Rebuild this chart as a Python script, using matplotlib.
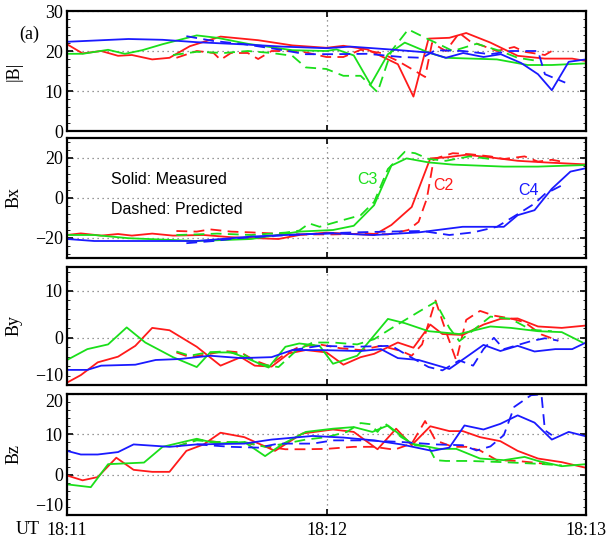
import matplotlib
matplotlib.use('Agg')
import matplotlib.pyplot as plt
from matplotlib.ticker import AutoMinorLocator

# time in seconds after 18:11 UT
# ---- |B| ----
b_c4_t = [0, 14.2, 22.1, 30, 41.8, 49.7, 60, 65.5, 75.8, 83.7, 87.6, 91.6, 96.3, 100.3, 105, 108.9, 112.1, 116, 120]
b_c4 = [22.3, 23.0, 22.8, 22.2, 21.6, 21.1, 20.7, 21.1, 20.3, 19.6, 18.3, 19.5, 18.5, 19.2, 17.0, 14.2, 10.2, 17.3, 17.9]
b_c3_t = [0, 3.6, 9.5, 13.4, 17.4, 22.1, 30, 34.7, 41.8, 52.1, 60, 62.3, 66.3, 70.2, 74.2, 78.1, 83.6, 87.6, 99.4, 106.5, 112.1, 120]
b_c3 = [19.3, 19.3, 20.3, 19.3, 20.2, 21.7, 23.9, 23.3, 21.8, 20.2, 20.0, 20.4, 18.9, 11.6, 19.2, 22.1, 19.6, 18.3, 17.9, 16.5, 16.5, 16.9]
b_c2_t = [0, 3.6, 7.9, 11.8, 15, 19.7, 23.7, 28.4, 35.5, 44.2, 52.1, 60, 63.9, 69.4, 76.5, 80.1, 83.6, 88.4, 92.3, 97.9, 104.2, 110.5, 116.8, 120]
b_c2 = [21.7, 19.4, 20.0, 18.8, 19.0, 17.9, 18.3, 21.2, 23.6, 22.7, 21.4, 20.8, 21.3, 20.4, 16.7, 8.6, 23.1, 23.3, 24.5, 22.1, 18.8, 18.1, 18.1, 17.5]
b_c2p_t = [25.3, 30, 33.9, 35.5, 37.9, 41.8, 44.2, 47.3, 53.7, 60, 63.9, 67.9, 72.6, 76.5, 80.5, 82.8, 84.4, 87.6, 90.7, 93.1, 99.4, 103.4, 105.8, 110.5, 112.1]
b_c2p = [18.3, 20.0, 19.5, 17.8, 19.5, 19.5, 18.0, 20.0, 20.0, 18.5, 18.5, 20.3, 19.5, 17.5, 15.0, 13.5, 22.0, 20.0, 24.5, 22.5, 20.0, 21.0, 19.8, 19.0, 20.0]
b_c3p_t = [24.5, 30, 36.3, 41.8, 47.3, 52.1, 55.2, 60, 63.9, 67.9, 71.8, 75, 78.9, 83.6, 86, 89.2, 94.7, 100.2, 104.2, 108.9]
b_c3p = [19.0, 19.8, 19.5, 20.0, 19.5, 18.8, 15.9, 15.5, 13.8, 13.8, 9.7, 20.0, 25.4, 22.9, 21.7, 20.0, 21.8, 20.0, 18.3, 17.5]
b_c4p_t = [27.6, 33.9, 41, 48.9, 55.2, 61.5, 69.4, 77.3, 82.1, 85.2, 91.5, 97.9, 102.6, 108.9, 110.5, 115.2]
b_c4p = [23.7, 22.5, 21.7, 20.4, 19.2, 19.2, 19.3, 18.5, 18.3, 20.2, 20.0, 19.2, 20.0, 20.0, 14.2, 12.1]

# ---- Bx ----
bx_c3_t = [0, 6.3, 14.2, 30, 42.6, 53.7, 61.5, 66.3, 71, 75, 78.5, 83.6, 89.2, 101, 108.9, 120]
bx_c3 = [-18.5, -18.5, -20.1, -21.5, -20.5, -16.8, -16.0, -13.9, -3.6, 16.2, 19.8, 17.8, 16.7, 15.7, 15.7, 16.5]
bx_c2_t = [0, 3.2, 7.9, 11.8, 15, 19.7, 24.5, 31.6, 37.9, 48.9, 53.7, 60, 71, 75, 79.7, 84, 87.6, 92.3, 97.9, 104.2, 110.5, 120]
bx_c2 = [-18.5, -17.7, -18.8, -18.0, -18.8, -17.8, -18.8, -18.5, -19.6, -20.5, -18.5, -17.3, -18.5, -13.5, -4.5, 19.8, 20.3, 21.6, 20.3, 18.6, 17.8, 16.8]
bx_c4_t = [0, 6.3, 14.2, 30, 42.6, 53.7, 61.5, 71, 81.3, 91.5, 101, 104.2, 108.1, 112.1, 116.4, 120]
bx_c4 = [-20.5, -21.5, -21.5, -21.5, -19.3, -18.2, -17.7, -18.5, -17.2, -14.4, -14.4, -8.6, -6.1, 4.6, 13.2, 14.9]
bx_c2p_t = [25.3, 30, 33.1, 37.9, 42.6, 47.3, 53.7, 61.5, 69.4, 74.2, 78.9, 81.3, 83.2, 84.8, 89.2, 93.1, 97.9, 101, 105.8, 108.9, 112.1, 114.4]
bx_c2p = [-16.5, -16.8, -15.7, -16.8, -17.2, -17.7, -18.2, -18.2, -17.8, -18.2, -16.0, -11.9, -0.3, 19.5, 22.4, 21.9, 20.8, 19.5, 20.8, 18.2, 19.1, 18.2]
bx_c3p_t = [25.3, 30, 34.7, 42.6, 50.5, 53.7, 56, 58.4, 63.9, 67.9, 71, 74.2, 78.1, 80.5, 83.6, 87.6, 93.1, 97.9]
bx_c3p = [-18.5, -18.2, -17.8, -18.5, -17.3, -16.3, -12.7, -14.4, -11.0, -8.6, -2.0, 14.5, 23.1, 22.4, 19.5, 18.6, 20.8, 19.5]
bx_c4p_t = [27.6, 33.9, 39.5, 48.9, 58.4, 66.3, 74.2, 82.1, 88.4, 93.9, 99.4, 104.2, 108.1, 110.5, 114.4]
bx_c4p = [-22.6, -21.5, -20.1, -18.8, -17.8, -17.2, -16.8, -16.5, -18.5, -17.2, -14.4, -8.1, -2.8, 2.0, 6.3]

# ---- By ----
by_c3_t = [0, 4.7, 9.5, 13.8, 18.1, 24.5, 30, 33.1, 37.9, 41, 46.6, 50.5, 53.7, 58.4, 61.5, 67.1, 74.2, 78.1, 83.6, 90.7, 97.9, 102.6, 108.9, 114.4, 119.2]
by_c3 = [-4.7, -2.4, -1.4, 2.2, -1.0, -4.1, -6.2, -3.1, -3.1, -4.1, -6.3, -1.9, -1.2, -1.7, -5.5, -3.8, 4.0, 3.1, 1.4, 0.8, 2.4, 2.1, 1.4, 1.2, -1.0]
by_c2_t = [0, 3.2, 7.1, 11.8, 15.8, 19.7, 23.7, 30, 35.5, 40.2, 43.4, 47.3, 51.3, 55.2, 60, 63.9, 67.9, 71, 76.5, 80.1, 84, 86.8, 91.5, 96.3, 100.2, 104.2, 108.9, 114.4, 120]
by_c2 = [-9.5, -7.9, -5.2, -4.0, -1.7, 2.1, 1.6, -1.9, -5.9, -4.1, -5.9, -6.1, -3.3, -2.6, -3.1, -5.7, -4.1, -3.4, -1.0, -2.1, 2.8, 0.8, 0.6, 2.8, 4.0, 4.1, 2.4, 2.1, 2.6]
by_c4_t = [0, 4.7, 7.9, 15.8, 20.5, 26, 33.1, 40.2, 47.3, 52.1, 58.4, 67.9, 72.6, 76.5, 81.3, 88.4, 92.3, 96.3, 100.2, 104.2, 108.1, 112.9, 116.8, 120]
by_c4 = [-6.8, -6.8, -5.9, -5.7, -4.7, -4.5, -3.8, -4.3, -4.1, -2.6, -2.6, -2.8, -2.4, -4.3, -4.7, -6.6, -4.1, -1.5, -2.8, -1.7, -2.9, -2.4, -2.4, -1.0]
by_c2p_t = [25.3, 28.4, 33.1, 36.3, 40.2, 43.4, 46.6, 50.5, 53.7, 58.4, 63.1, 67.9, 72.6, 77.3, 79.7, 82.1, 85.2, 87.6, 90, 92.3, 95.5, 98.7, 102.6, 105.8, 109.7, 113.6]
by_c2p = [-3.1, -4.1, -3.4, -2.8, -3.1, -4.8, -5.9, -3.4, -1.9, -1.4, -2.2, -2.6, -1.7, -2.8, -3.8, -1.4, 7.9, 1.4, -4.8, 3.8, 5.7, 4.7, 4.1, 3.3, 0.7, -0.6]
by_c3p_t = [25.3, 28.4, 32.4, 36.3, 41, 44.2, 48.9, 52.9, 56.8, 61.5, 67.1, 71, 75.7, 81.3, 85.2, 88.4, 90.7, 93.1, 97.9, 102.6, 107.3, 112.1]
by_c3p = [-2.9, -3.8, -3.1, -2.9, -3.6, -5.5, -6.2, -2.8, -1.0, -1.0, -1.4, -0.3, 2.4, 5.5, 7.6, 2.1, -0.7, 1.0, 4.5, 4.0, 1.7, 1.4]
by_c4p_t = [52.1, 58.4, 66.3, 75, 78.9, 83.6, 86.8, 90.7, 93.9, 96.3, 98.7, 101, 107.3, 110.5, 113.6]
by_c4p = [-2.6, -1.7, -1.9, -1.7, -3.8, -6.2, -6.9, -4.8, -5.9, -2.4, 0.0, -2.4, -0.7, -0.1, -0.6]

# ---- Bz ----
bz_c4_t = [0, 3.2, 7.1, 11.8, 15.4, 23.7, 30, 41, 47.3, 56.8, 63.9, 71, 77.3, 84.4, 88.4, 91.9, 96.3, 100.2, 104.2, 108.1, 112.1, 116, 120]
bz_c4 = [5.9, 5.0, 5.0, 5.6, 7.5, 6.9, 7.5, 7.7, 8.7, 9.6, 9.2, 8.5, 7.5, 5.9, 6.7, 12.2, 11.2, 12.6, 14.7, 12.9, 8.7, 10.6, 9.5]
bz_c3_t = [0, 5.5, 9.5, 17.8, 22.1, 30, 34.7, 41, 45.8, 49.7, 55.2, 61.5, 66.3, 70.6, 74.2, 79.7, 86, 90, 95.5, 101, 105.8, 108.9, 114.4, 120]
bz_c3 = [-2.4, -3.1, 2.6, 3.0, 6.9, 8.9, 7.7, 8.1, 4.6, 7.5, 10.6, 11.4, 11.8, 10.6, 12.2, 7.7, 6.4, 6.4, 4.0, 3.6, 4.4, 3.4, 2.1, 2.6]
bz_c2_t = [0, 3.6, 7.1, 11.4, 15.4, 19.7, 23.7, 27.6, 31.6, 35.5, 41, 48.1, 54.4, 61.5, 66.3, 71.8, 76.1, 79.7, 84, 88.4, 91.5, 95.5, 100.2, 104.2, 108.9, 114.4, 120]
bz_c2 = [-0.2, -1.4, -0.6, 4.2, 1.2, 0.7, 0.7, 5.9, 7.5, 10.4, 9.3, 5.9, 10.2, 11.2, 10.6, 6.3, 11.4, 7.3, 12.0, 10.8, 10.8, 9.3, 8.3, 5.9, 4.0, 3.1, 1.7]
bz_c2p_t = [25.3, 30, 34.7, 41, 45.8, 50.5, 55.2, 60, 66.3, 71, 75.7, 79.7, 82.8, 85.2, 89.2, 92.3, 95.5, 99.4, 104.2, 110.5]
bz_c2p = [6.9, 8.7, 8.1, 7.9, 7.0, 6.3, 6.3, 6.4, 6.9, 6.9, 6.2, 7.7, 13.3, 8.5, 6.9, 6.9, 6.0, 3.6, 3.4, 2.7]
bz_c3p_t = [25.3, 30, 34.7, 41, 45.8, 50.5, 55.2, 60, 64.7, 67.9, 70.2, 71.8, 73.4, 77.3, 80.5, 83.6, 85.2, 87.6, 93.1, 101, 108.9, 114.4]
bz_c3p = [7.0, 8.5, 8.1, 8.1, 6.9, 7.7, 8.7, 9.3, 10.6, 12.8, 12.5, 10.6, 12.8, 9.3, 7.3, 6.9, 3.6, 3.4, 3.4, 3.1, 2.7, 2.3]
bz_c4p_t = [30, 37.9, 44.2, 48.9, 56.8, 61.5, 69.4, 77.3, 85.2, 91.5, 94.7, 97.9, 101, 103.4, 107.3, 109.7, 110.5, 112.1]
bz_c4p = [7.5, 6.9, 6.7, 7.7, 7.7, 8.5, 8.5, 8.1, 7.5, 7.3, 6.0, 7.0, 9.8, 16.8, 19.7, 19.9, 11.0, 9.8]

red = '#ff1a1a'
green = '#1adf1a'
blue = '#1a1aff'

panels = [
    ('|B|', (0, 30), [0, 10, 20, 30],
     [(b_c2_t, b_c2, b_c2p_t, b_c2p, red), (b_c3_t, b_c3, b_c3p_t, b_c3p, green), (b_c4_t, b_c4, b_c4p_t, b_c4p, blue)]),
    ('Bx', (-30, 30), [-20, 0, 20],
     [(bx_c2_t, bx_c2, bx_c2p_t, bx_c2p, red), (bx_c3_t, bx_c3, bx_c3p_t, bx_c3p, green), (bx_c4_t, bx_c4, bx_c4p_t, bx_c4p, blue)]),
    ('By', (-10, 15), [-10, 0, 10],
     [(by_c2_t, by_c2, by_c2p_t, by_c2p, red), (by_c3_t, by_c3, by_c3p_t, by_c3p, green), (by_c4_t, by_c4, by_c4p_t, by_c4p, blue)]),
    ('Bz', (-10, 20), [-10, 0, 10, 20],
     [(bz_c2_t, bz_c2, bz_c2p_t, bz_c2p, red), (bz_c3_t, bz_c3, bz_c3p_t, bz_c3p, green), (bz_c4_t, bz_c4, bz_c4p_t, bz_c4p, blue)]),
]

serif = 'Liberation Serif'
sans = 'Liberation Sans'

fig = plt.figure(figsize=(6.11, 5.44), dpi=100)
W, H = 611.0, 544.0
left, right = 67, 586
boxes = [(11, 131), (138, 258), (267, 385), (394, 515)]

for i, (name, ylim, yticks, series) in enumerate(panels):
    top, bot = boxes[i]
    ax = fig.add_axes([left / W, 1 - bot / H, (right - left) / W, (bot - top) / H])
    for t, v, tp, vp, c in series:
        ax.plot(tp, vp, color=c, lw=1.3, ls=(0, (6, 3.5)))
        ax.plot(t, v, color=c, lw=1.3)
    ax.set_xlim(0, 120)
    ax.set_ylim(*ylim)
    ax.set_yticks(yticks)
    ax.set_yticklabels([str(v).replace('-', '\u2212') for v in yticks], fontfamily=serif, fontsize=13)
    ax.set_xticks([0, 60, 120])
    ax.yaxis.set_minor_locator(AutoMinorLocator(5))
    ax.grid(True, ls=(0, (1, 3)), color='#777777', lw=0.9)
    ax.tick_params(direction='in', right=True, top=True, length=4, width=1.2, pad=3)
    ax.tick_params(axis='x', pad=5)
    ax.tick_params(which='minor', direction='in', right=True, left=True, length=2)
    for s in ax.spines.values():
        s.set_linewidth(1.6)
    ax.set_ylabel(name, fontfamily=serif, fontsize=13)
    ax.yaxis.set_label_coords(-0.085, 0.5)
    labs = ax.get_yticklabels()
    if i in (2, 3):
        labs[0].set_verticalalignment('bottom')
    if i == 3:
        labs[-1].set_verticalalignment('top')
    if i < 3:
        ax.set_xticklabels([])
    else:
        ax.set_xticklabels(['18:11', '18:12', '18:13'], fontfamily=serif, fontsize=13)
    if i == 1:
        ax.text(0.085, 0.65, 'Solid: Measured', transform=ax.transAxes, fontfamily=sans, fontsize=11.5, va='center')
        ax.text(0.085, 0.40, 'Dashed: Predicted', transform=ax.transAxes, fontfamily=sans, fontsize=11.5, va='center')
        ax.text(0.56, 0.65, 'C3', color=green, transform=ax.transAxes, fontfamily=sans, fontsize=11.5, va='center')
        ax.text(0.705, 0.60, 'C2', color=red, transform=ax.transAxes, fontfamily=sans, fontsize=11.5, va='center')
        ax.text(0.87, 0.56, 'C4', color=blue, transform=ax.transAxes, fontfamily=sans, fontsize=11.5, va='center')

fig.text(29 / W, 1 - 34 / H, '(a)', fontfamily=serif, fontsize=13, ha='center', va='center')
fig.text(28 / W, 1 - 530 / H, 'UT', fontfamily=serif, fontsize=13, ha='center', va='center')

fig.savefig('out.png', dpi=100)
